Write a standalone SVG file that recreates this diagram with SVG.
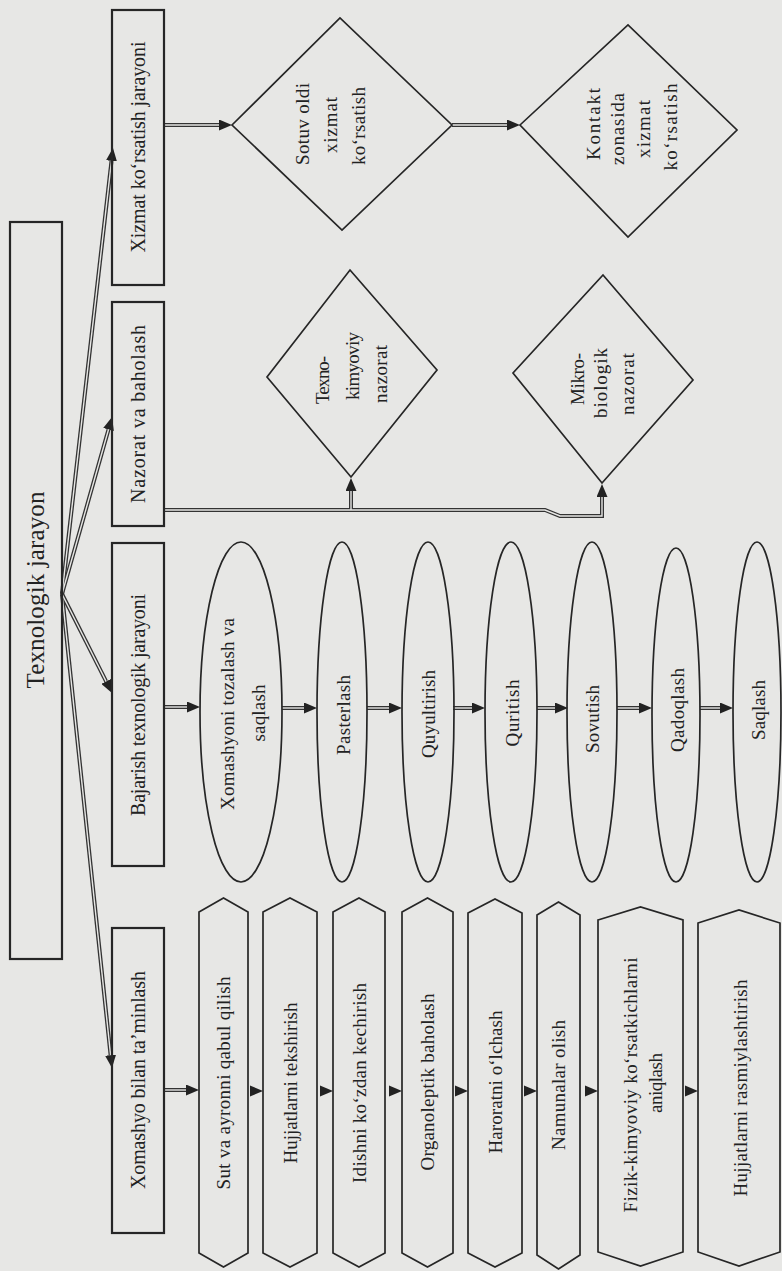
<svg xmlns="http://www.w3.org/2000/svg" width="782" height="1271" viewBox="0 0 782 1271">
<style>
.box{fill:none;stroke:#262626;stroke-width:2.2}
.sh{fill:none;stroke:#262626;stroke-width:1.7}
.t{font-family:"Liberation Serif","Times New Roman",serif;fill:#222;text-anchor:middle}
.big{font-size:25px}
.m{font-size:20px}
.s{font-size:19px}
.co{fill:none;stroke:#333;stroke-width:4}
.ci{fill:none;stroke:#e7e7e5;stroke-width:1.4}
.tri{fill:#222}
</style>
<defs>
<marker id="ah" viewBox="0 0 13 11" markerWidth="13" markerHeight="11" refX="0" refY="5.5" orient="auto" markerUnits="userSpaceOnUse">
<path d="M0,0 L13,5.5 L0,11 z" fill="#222"/>
</marker>
</defs>
<rect width="782" height="1271" fill="#e7e7e5"/>

<g id="connectors">
<g id="outer">
<path class="co" d="M62,594 L111.5,160.9" marker-end="url(#ah)"/>
<path class="co" d="M62,594 L108.5,429.5" marker-end="url(#ah)"/>
<path class="co" d="M62,594 L106.1,681.4" marker-end="url(#ah)"/>
<path class="co" d="M62,594 L110.6,1055.1" marker-end="url(#ah)"/>
<path class="co" d="M164,125 H219" marker-end="url(#ah)"/>
<path class="co" d="M452,125 H507" marker-end="url(#ah)"/>
<path class="co" d="M164,510 H545 L560,516 H602 V497" marker-end="url(#ah)"/>
<path class="co" d="M351,510 V491" marker-end="url(#ah)"/>
<path class="co" d="M164,707 H187" marker-end="url(#ah)"/>
<path class="co" d="M282,708 H304" marker-end="url(#ah)"/>
<path class="co" d="M367,708 H389" marker-end="url(#ah)"/>
<path class="co" d="M453,708 H472" marker-end="url(#ah)"/>
<path class="co" d="M537,708 H555" marker-end="url(#ah)"/>
<path class="co" d="M617,708 H639" marker-end="url(#ah)"/>
<path class="co" d="M700,708 H720" marker-end="url(#ah)"/>
<path class="co" d="M164,1090 H186" marker-end="url(#ah)"/>
</g>
<g id="inner">
<path class="ci" d="M62,594 L111.5,160.9"/>
<path class="ci" d="M62,594 L108.5,429.5"/>
<path class="ci" d="M62,594 L106.1,681.4"/>
<path class="ci" d="M62,594 L110.6,1055.1"/>
<path class="ci" d="M164,125 H219"/>
<path class="ci" d="M452,125 H507"/>
<path class="ci" d="M164,510 H545 L560,516 H602 V497"/>
<path class="ci" d="M351,510 V491"/>
<path class="ci" d="M164,707 H187"/>
<path class="ci" d="M282,708 H304"/>
<path class="ci" d="M367,708 H389"/>
<path class="ci" d="M453,708 H472"/>
<path class="ci" d="M537,708 H555"/>
<path class="ci" d="M617,708 H639"/>
<path class="ci" d="M700,708 H720"/>
<path class="ci" d="M164,1090 H186"/>
</g>
<g id="hex-arrows">
<polygon class="tri" points="250,1085.5 263,1091 250,1096.5"/>
<polygon class="tri" points="320,1085.5 333,1091 320,1096.5"/>
<polygon class="tri" points="389,1085.5 402,1091 389,1096.5"/>
<polygon class="tri" points="455,1085.5 468,1091 455,1096.5"/>
<polygon class="tri" points="524,1085.5 537,1091 524,1096.5"/>
<polygon class="tri" points="585,1085.5 598,1091 585,1096.5"/>
<polygon class="tri" points="685,1085.5 698,1091 685,1096.5"/>
</g>
</g>

<g id="n-tex">
<rect class="box" x="10" y="222" width="52" height="737"/>
<text class="t big" transform="translate(35,590) rotate(-90)" dy="0.35em" textLength="197">Texnologik jarayon</text>
</g>
<g id="n-xizmat">
<rect class="box" x="112" y="10" width="52" height="275"/>
<text class="t m" transform="translate(138,147) rotate(-90)" dy="0.35em" textLength="211">Xizmat ko‘rsatish jarayoni</text>
</g>
<g id="n-nazorat">
<rect class="box" x="112" y="302" width="52" height="224"/>
<text class="t m" transform="translate(138,414) rotate(-90)" dy="0.35em" textLength="178">Nazorat va baholash</text>
</g>
<g id="n-bajarish">
<rect class="box" x="112" y="543" width="52" height="323"/>
<text class="t m" transform="translate(138,705) rotate(-90)" dy="0.35em" textLength="222">Bajarish texnologik jarayoni</text>
</g>
<g id="n-xomashyo">
<rect class="box" x="112" y="928" width="52" height="305"/>
<text class="t m" transform="translate(138,1080) rotate(-90)" dy="0.35em" textLength="218">Xomashyo bilan ta’minlash</text>
</g>

<g id="n-sotuv">
<polygon class="sh" points="232,125 340,18 452,125 342,230"/>
<text class="t s" transform="translate(302,124) rotate(-90)" dy="0.35em" textLength="82">Sotuv oldi</text>
<text class="t s" transform="translate(330,125) rotate(-90)" dy="0.35em" textLength="56">xizmat</text>
<text class="t s" transform="translate(358,126) rotate(-90)" dy="0.35em" textLength="78">ko‘rsatish</text>
</g>
<g id="n-kontakt">
<polygon class="sh" points="520,125 628,25 737,130 628,237"/>
<text class="t s" transform="translate(593,124) rotate(-90)" dy="0.35em" textLength="72">Kontakt</text>
<text class="t s" transform="translate(617,129) rotate(-90)" dy="0.35em" textLength="72">zonasida</text>
<text class="t s" transform="translate(643,129) rotate(-90)" dy="0.35em" textLength="58">xizmat</text>
<text class="t s" transform="translate(670,127) rotate(-90)" dy="0.35em" textLength="87">ko‘rsatish</text>
</g>
<g id="n-texno">
<polygon class="sh" points="350,270 437,370 351,477 267,377"/>
<text class="t s" transform="translate(322,380) rotate(-90)" dy="0.35em" textLength="48">Texno-</text>
<text class="t s" transform="translate(352,366) rotate(-90)" dy="0.35em" textLength="68">kimyoviy</text>
<text class="t s" transform="translate(380,374) rotate(-90)" dy="0.35em" textLength="58">nazorat</text>
</g>
<g id="n-mikro">
<polygon class="sh" points="603,275 693,380 602,483 513,373"/>
<text class="t s" transform="translate(577,379) rotate(-90)" dy="0.35em" textLength="52">Mikro-</text>
<text class="t s" transform="translate(600,383) rotate(-90)" dy="0.35em" textLength="70">biologik</text>
<text class="t s" transform="translate(627,384) rotate(-90)" dy="0.35em" textLength="62">nazorat</text>
</g>

<g id="e1">
<ellipse class="sh" cx="241" cy="712" rx="41" ry="170"/>
<text class="t s" transform="translate(227,714) rotate(-90)" dy="0.35em" textLength="192">Xomashyoni tozalash va</text>
<text class="t s" transform="translate(258,713) rotate(-90)" dy="0.35em" textLength="57">saqlash</text>
</g>
<g id="e2">
<ellipse class="sh" cx="342" cy="712" rx="25" ry="170"/>
<text class="t s" transform="translate(343,715) rotate(-90)" dy="0.35em" textLength="80">Pasterlash</text>
</g>
<g id="e3">
<ellipse class="sh" cx="428" cy="712" rx="26" ry="170"/>
<text class="t s" transform="translate(428,714) rotate(-90)" dy="0.35em" textLength="88">Quyultirish</text>
</g>
<g id="e4">
<ellipse class="sh" cx="511" cy="712" rx="26" ry="170"/>
<text class="t s" transform="translate(512,713) rotate(-90)" dy="0.35em" textLength="67">Quritish</text>
</g>
<g id="e5">
<ellipse class="sh" cx="592" cy="712" rx="25" ry="170"/>
<text class="t s" transform="translate(592,719) rotate(-90)" dy="0.35em" textLength="68">Sovutish</text>
</g>
<g id="e6">
<ellipse class="sh" cx="676" cy="715" rx="24" ry="167"/>
<text class="t s" transform="translate(677,710) rotate(-90)" dy="0.35em" textLength="84">Qadoqlash</text>
</g>
<g id="e7">
<ellipse class="sh" cx="757" cy="712" rx="24" ry="170"/>
<text class="t s" transform="translate(758,710) rotate(-90)" dy="0.35em" textLength="60">Saqlash</text>
</g>

<g id="h1">
<polygon class="sh" points="199,912 223.5,898 248,912 248,1253 223.5,1267 199,1253"/>
<text class="t s" transform="translate(223.5,1083) rotate(-90)" dy="0.35em" textLength="213">Sut va ayronni qabul qilish</text>
</g>
<g id="h2">
<polygon class="sh" points="263,912 290,898 317,912 317,1253 290,1267 263,1253"/>
<text class="t s" transform="translate(290,1083) rotate(-90)" dy="0.35em" textLength="161">Hujjatlarni tekshirish</text>
</g>
<g id="h3">
<polygon class="sh" points="333,912 359,898 385,912 385,1253 359,1267 333,1253"/>
<text class="t s" transform="translate(359,1083) rotate(-90)" dy="0.35em" textLength="200">Idishni ko‘zdan kechirish</text>
</g>
<g id="h4">
<polygon class="sh" points="402,912 427.5,898 453,912 453,1253 427.5,1267 402,1253"/>
<text class="t s" transform="translate(427.5,1082) rotate(-90)" dy="0.35em" textLength="177">Organoleptik baholash</text>
</g>
<g id="h5">
<polygon class="sh" points="468,913 495,899 522,913 522,1253 495,1267 468,1253"/>
<text class="t s" transform="translate(495,1082) rotate(-90)" dy="0.35em" textLength="143">Haroratni o‘lchash</text>
</g>
<g id="h6">
<polygon class="sh" points="537,915 558.5,902 580,915 580,1255 558.5,1269 537,1255"/>
<text class="t s" transform="translate(558.5,1085) rotate(-90)" dy="0.35em" textLength="130">Namunalar olish</text>
</g>
<g id="h7">
<polygon class="sh" points="598,920 640.5,907 683,920 683,1252 640.5,1266 598,1252"/>
<text class="t s" transform="translate(630,1085) rotate(-90)" dy="0.35em" textLength="255">Fizik-kimyoviy ko‘rsatkichlarni</text>
<text class="t s" transform="translate(655,1083) rotate(-90)" dy="0.35em" textLength="60">aniqlash</text>
</g>
<g id="h8">
<polygon class="sh" points="698,923 739,910 780,923 780,1252 739,1266 698,1252"/>
<text class="t s" transform="translate(740,1088) rotate(-90)" dy="0.35em" textLength="217">Hujjatlarni rasmiylashtirish</text>
</g>
</svg>
